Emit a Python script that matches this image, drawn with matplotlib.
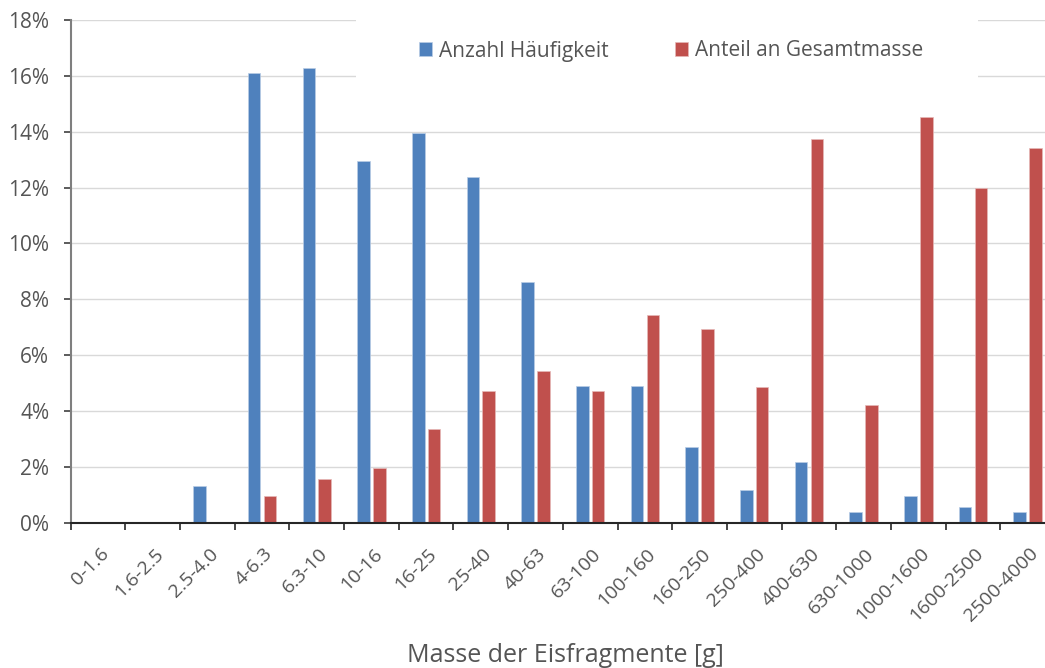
import matplotlib
matplotlib.use("Agg")
import matplotlib.pyplot as plt
import numpy as np
from matplotlib.patches import Rectangle
from matplotlib.ticker import FixedLocator, FuncFormatter
from matplotlib.transforms import ScaledTranslation

categories = ["0-1.6", "1.6-2.5", "2.5-4.0", "4-6.3", "6.3-10", "10-16", "16-25",
              "25-40", "40-63", "63-100", "100-160", "160-250", "250-400",
              "400-630", "630-1000", "1000-1600", "1600-2500", "2500-4000"]
anzahl = [0, 0, 1.35, 16.1, 16.28, 12.95, 13.95, 12.38, 8.62, 4.9, 4.9, 2.74,
          1.18, 2.18, 0.39, 0.97, 0.58, 0.39]
anteil = [0, 0, 0.05, 0.97, 1.57, 1.97, 3.38, 4.72, 5.44, 4.72, 7.46, 6.96,
          4.86, 13.73, 4.23, 14.51, 12.0, 13.41]
series_names = ["Anzahl Häufigkeit", "Anteil an Gesamtmasse"]
yticks = [0, 2, 4, 6, 8, 10, 12, 14, 16, 18]
xlabel = "Masse der Eisfragmente [g]"

W, H = 1045, 668
fig = plt.figure(figsize=(W / 100, H / 100), dpi=100)
plt.rcParams['font.family'] = ['Open Sans', 'DejaVu Sans']
grey = '#555555'

left_px, right_px, top_px, bot_px = 70.7, 1055.0, 19.6, 523.3
ax = fig.add_axes([left_px / W, 1 - bot_px / H, (right_px - left_px) / W, (bot_px - top_px) / H])

x = np.arange(len(categories))
bw = 0.23
off = 0.145
ax.bar(x - off, anzahl, bw, color='#4F81BD', edgecolor='#b9cde5', linewidth=0.5,
       label=series_names[0], zorder=3)
ax.bar(x + off, anteil, bw, color='#C0504D', edgecolor='#e6b9b8', linewidth=0.5,
       label=series_names[1], zorder=3)

ax.set_xlim(-0.5, len(categories) - 0.5)
ax.set_ylim(0, 18)
ax.set_yticks(yticks)
ax.yaxis.set_major_formatter(FuncFormatter(lambda v, p: f"{v:.0f}%"))
ax.yaxis.grid(True, color='#d9d9d9', linewidth=1.0, zorder=0)
ax.set_axisbelow(True)

ax.set_xticks(x)
ax.set_xticklabels(categories, rotation=45, ha='right', va='center', rotation_mode='anchor')
ax.xaxis.set_minor_locator(FixedLocator(np.arange(-0.5, len(categories), 1.0)))
ax.tick_params(axis='x', which='major', length=0, pad=20, labelsize=14, labelcolor=grey)
ax.tick_params(axis='x', which='minor', length=5, width=1.2, color='#262626', direction='out')
ax.tick_params(axis='y', which='major', length=5, width=1.2, color='#404040', pad=10.5,
               labelsize=15, labelcolor=grey)
for lab in ax.get_xticklabels():
    lab.set_transform(lab.get_transform() + ScaledTranslation(8 / 100, 0, fig.dpi_scale_trans))

for s in ['top', 'right']:
    ax.spines[s].set_visible(False)
ax.spines['left'].set_color('#7f7f7f')
ax.spines['left'].set_linewidth(1.5)
ax.spines['bottom'].set_color('#262626')
ax.spines['bottom'].set_linewidth(1.5)
ax.spines['bottom'].set_zorder(4)

# white legend background hiding gridlines
ax.add_patch(Rectangle((356 / W, 1 - 88 / H), (978 - 356) / W, 88 / H,
                       transform=fig.transFigure, facecolor='white', edgecolor='none',
                       zorder=2))

fig.legend(loc='center', bbox_to_anchor=(671 / W, 1 - 51 / H), ncol=2, frameon=False,
           fontsize=15, labelcolor=grey, handlelength=0.62, handleheight=0.62,
           handletextpad=0.34, columnspacing=3.2, borderpad=0)

fig.text(565 / W, 1 - 655 / H, xlabel, ha='center', va='center', fontsize=18, color=grey)

fig.savefig('out.png', dpi=100)
